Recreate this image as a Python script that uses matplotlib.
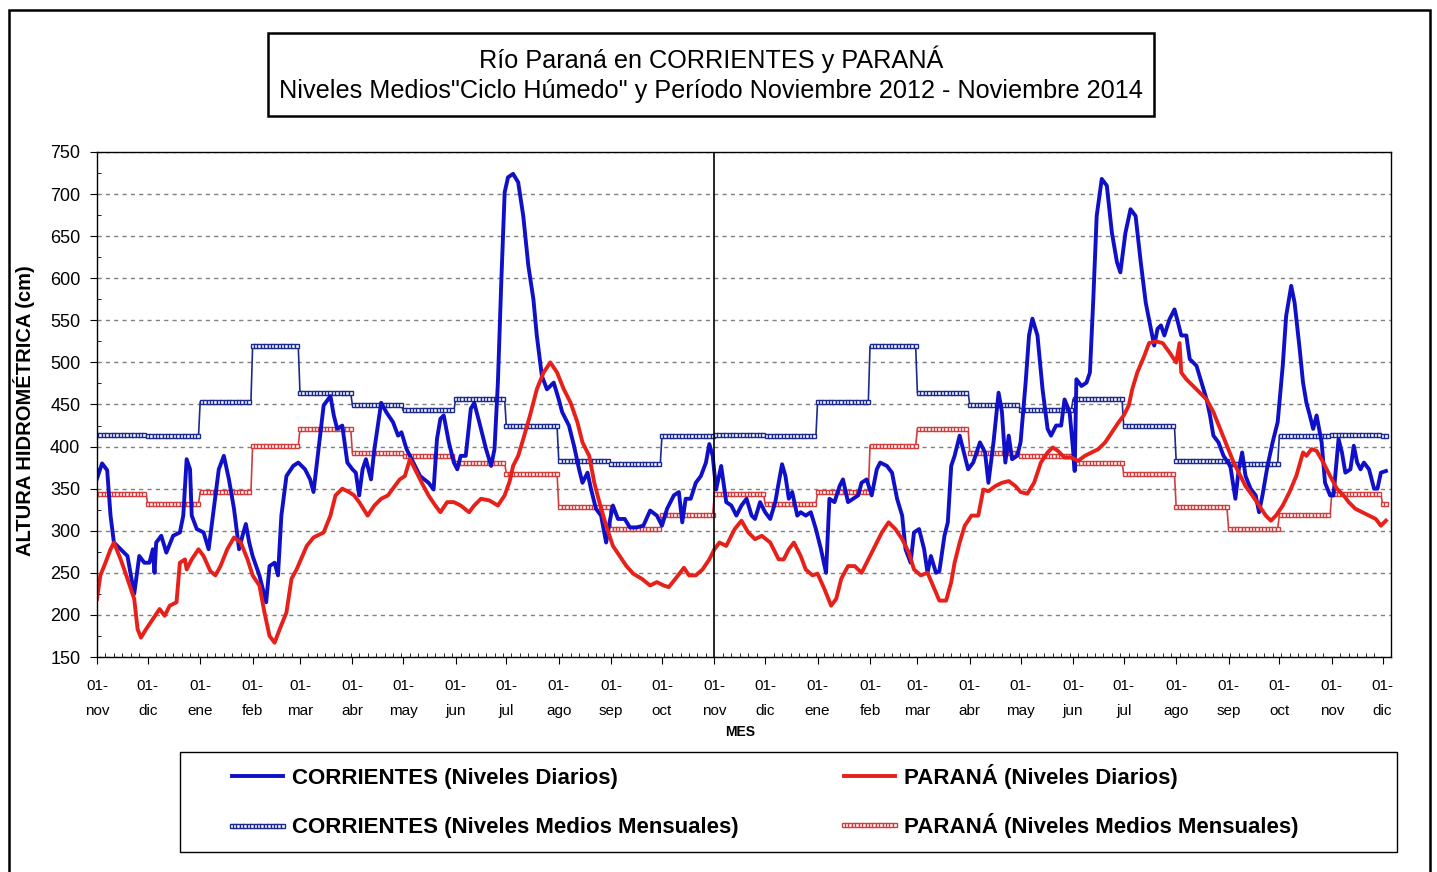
import numpy as np
import matplotlib.pyplot as plt
from matplotlib.patches import Rectangle
from matplotlib.ticker import MultipleLocator

plt.rcParams['font.family'] = ['Liberation Sans', 'DejaVu Sans']

# dias contados desde el 01-nov-2012
inicio = np.datetime64('2012-11-01')
meses = ['ene', 'feb', 'mar', 'abr', 'may', 'jun', 'jul', 'ago', 'sep', 'oct', 'nov', 'dic']

# niveles medios mensuales "ciclo humedo" (se repiten cada año)
mes_ciclo = ['nov', 'dic', 'ene', 'feb', 'mar', 'abr', 'may', 'jun', 'jul', 'ago', 'sep', 'oct']
corr_medio = [414, 412, 453, 519, 464, 449, 443, 456, 424, 383, 379, 413]
par_medio = [344, 332, 346, 401, 421, 392, 389, 381, 367, 328, 302, 319]

# CORRIENTES, niveles diarios (cm)
corr_dia = [0, 3, 6, 8, 10, 14, 18, 22, 25, 28, 31, 33, 34, 35, 38, 41, 45, 49, 51, 53, 55, 56, 59, 63, 66,
            69, 72, 75, 78, 81, 84, 86, 88, 90, 92, 96, 100, 102, 105, 107, 109, 112, 116, 119, 123, 126,
            128, 131, 134, 138, 140, 142, 145, 148, 151, 153, 155, 157, 159, 162, 164, 168, 171, 175, 178, 180,
            183, 187, 191, 196, 199, 201, 203, 205, 208, 211, 213, 215, 218, 221, 223, 226, 230, 233, 235, 237,
            239, 241, 243,
            246, 249, 252, 255, 258, 260, 263, 266, 270, 273, 275, 279, 282, 285, 287, 290, 292, 295, 298, 301,
            303, 305, 308, 312, 315, 319, 323, 327, 331, 334, 337, 341, 344, 346, 348, 351, 354, 357, 360, 362,
            364, 366, 369,
            372, 375, 378, 381, 384, 387, 389, 392, 395, 398, 401, 403, 405, 407, 409, 411, 414, 416, 419, 422,
            425, 428, 431, 433, 436, 439, 441, 444, 447, 450, 452, 455, 458, 461, 463, 467, 470, 473, 476, 478,
            481, 483, 486, 489, 491,
            493, 496, 498, 501, 503, 505, 507, 510, 512, 515, 518, 522, 525, 527, 530, 533, 535, 537, 539, 541,
            544, 546, 549, 551, 553, 556, 559, 562, 564, 567, 570, 572, 575, 577, 578, 579, 582, 585, 587, 589,
            591, 594, 597, 600, 603, 605, 608, 611, 614,
            617, 620, 623, 625, 627, 629, 631, 634, 637, 639, 641, 644, 646, 650, 653, 656, 658, 660, 663, 666,
            670, 673, 675, 677, 679, 682, 685, 687, 689, 692, 695, 698, 701, 703, 706, 708, 711, 713, 715, 717,
            719, 721, 724, 726, 729, 731, 734, 736, 738, 741, 743, 745, 747, 749, 752, 755, 757, 759, 762]
corr_nivel = [362, 380, 372, 318, 286, 278, 270, 225, 270, 262, 262, 278, 250, 286, 294, 274, 294, 298, 318, 385, 373, 318, 302, 298, 278,
              326, 373, 389, 361, 326, 278, 294, 308, 286, 270, 247, 215, 258, 262, 247, 318, 365, 377, 381, 373, 361,
              346, 397, 449, 460, 437, 421, 425, 381, 373, 369, 342, 373, 385, 361, 397, 452, 441, 429, 413, 417,
              397, 381, 365, 357, 349, 409, 433, 437, 405, 381, 373, 389, 389, 445, 452, 429, 397, 377, 397, 476,
              595, 702, 720,
              724, 714, 674, 615, 575, 532, 484, 468, 476, 456, 441, 425, 401, 373, 357, 369, 350, 326, 318, 286,
              310, 330, 314, 314, 304, 304, 306, 324, 318, 306, 326, 342, 346, 310, 338, 338, 357, 365, 381, 403,
              389, 349, 377,
              334, 330, 318, 330, 338, 318, 314, 334, 322, 314, 334, 357, 379, 365, 338, 346, 318, 322, 318, 322,
              302, 278, 250, 338, 334, 353, 361, 334, 338, 342, 357, 361, 342, 373, 381, 377, 369, 338, 318, 278,
              262, 298, 302, 278, 250,
              270, 250, 252, 294, 310, 377, 389, 413, 397, 373, 381, 405, 393, 357, 405, 464, 441, 381, 413, 385,
              389, 405, 476, 532, 552, 532, 468, 421, 413, 425, 425, 456, 441, 397, 371, 480, 472, 476, 488, 575,
              674, 718, 710, 654, 619, 607, 654, 682, 674,
              620, 571, 540, 520, 540, 544, 532, 551, 563, 548, 532, 532, 504, 496, 476, 456, 437, 413, 405, 389,
              377, 338, 373, 393, 365, 350, 342, 322, 342, 377, 405, 429, 496, 555, 591, 571, 516, 476, 452, 437,
              421, 437, 405, 357, 342, 342, 409, 393, 369, 373, 401, 381, 373, 381, 373, 350, 350, 369, 371]

# PARANA, niveles diarios (cm)
par_dia = [0, 2, 5, 8, 10, 14, 18, 22, 24, 26, 29, 33, 37, 40, 43, 47, 49, 52, 53, 56, 60, 63, 67, 70, 73,
           77, 81, 85, 89, 92, 96, 99, 102, 105, 108, 112, 115, 118,
           121, 124, 128, 134, 138, 141, 145, 149, 152, 155, 160, 164, 168, 172, 176, 179, 182, 185, 188, 192,
           196, 200, 203, 207, 211, 215, 220, 223, 227, 232, 237, 241,
           244, 246, 249, 252, 256, 260, 264, 268, 272, 276, 280, 284, 287, 291, 294, 297, 301, 305, 309, 313,
           317, 322, 327, 331, 335, 338, 342, 347, 350, 354, 358, 362, 365, 368,
           372, 377, 381, 385, 389, 393, 398, 403, 406, 409, 412, 416, 419, 423, 426, 430, 434, 437, 440, 444,
           448, 452, 456, 460, 464, 468, 472, 476, 480, 483, 487, 491, 495,
           498, 502, 505, 507, 510, 513, 517, 521, 524, 527, 531, 535, 539, 543, 546, 550, 554, 558, 562, 565,
           568, 572, 576, 580, 584, 588, 592, 596, 600, 604, 607, 610, 612, 615,
           619, 622, 626, 630, 634, 638, 640, 641, 644, 648, 652, 656, 660, 664, 668, 672, 676, 679, 683, 687,
           691, 694, 697, 701, 705, 709, 713, 715, 718, 721, 725, 729, 733, 737, 740, 744, 748, 752, 756, 759, 762]
par_nivel = [219, 247, 262, 278, 286, 266, 243, 219, 183, 173, 183, 195, 207, 199, 211, 215, 262, 266, 254, 266, 278, 270, 252, 247, 258,
             278, 292, 286, 266, 247, 235, 203, 175, 167, 183, 203, 243, 254,
             268, 282, 292, 298, 318, 342, 350, 346, 342, 334, 318, 330, 338, 342, 353, 361, 365, 385, 373, 357,
             342, 330, 322, 334, 334, 330, 322, 330, 338, 336, 330, 342,
             359, 377, 389, 409, 437, 468, 488, 500, 488, 468, 452, 429, 405, 389, 357, 334, 306, 282, 270, 258,
             249, 243, 235, 239, 235, 233, 243, 256, 247, 247, 254, 266, 278, 286,
             282, 302, 312, 298, 290, 294, 286, 266, 266, 278, 286, 270, 254, 247, 249, 231, 211, 219, 243, 258,
             258, 250, 266, 282, 298, 310, 302, 290, 274, 254, 247, 250, 231,
             217, 217, 239, 262, 286, 306, 318, 318, 349, 347, 353, 357, 359, 353, 346, 344, 357, 381, 393, 399,
             395, 387, 387, 383, 389, 393, 397, 405, 417, 429, 437, 449, 468, 488,
             507, 523, 525, 523, 512, 500, 523, 488, 480, 472, 464, 456, 441, 421, 401, 381, 365, 353, 342, 330,
             318, 312, 318, 330, 346, 365, 393, 389, 397, 395, 381, 365, 350, 342, 334, 326, 322, 318, 314, 306, 312]

# eje de fechas
meses_eje = np.arange('2012-11', '2015-01', dtype='datetime64[M]')
dias_mes = (meses_eje.astype('datetime64[D]') - inicio).astype(int)
etiquetas = ['01-\n' + meses[m] for m in meses_eje.astype(int) % 12]

# serie diaria de medios mensuales
dias = np.arange(0, 764)
mes_de_dia = [meses[m] for m in (inicio + dias).astype('datetime64[M]').astype(int) % 12]
corr_med_serie = [dict(zip(mes_ciclo, corr_medio))[m] for m in mes_de_dia]
par_med_serie = [dict(zip(mes_ciclo, par_medio))[m] for m in mes_de_dia]

W, H = 1437, 872
fig = plt.figure(figsize=(W / 100, H / 100), dpi=100)
ax = fig.add_axes([97 / W, 1 - 657 / H, (1391 - 97) / W, (657 - 152) / H])

azul, rojo = '#1010C8', '#E8201A'
azul_m, rojo_m = '#1C2A8E', '#D23C3C'

l3, = ax.plot(dias, corr_med_serie, color=azul_m, lw=1.2, marker='s', ms=3.3, mfc='white',
              mec=azul_m, mew=1.0, markevery=2)
l4, = ax.plot(dias, par_med_serie, color=rojo_m, lw=1.2, marker='s', ms=3.3, mfc='white',
              mec=rojo_m, mew=1.0, markevery=2)
l1, = ax.plot(corr_dia, corr_nivel, color=azul, lw=2.8)
l2, = ax.plot(par_dia, par_nivel, color=rojo, lw=2.8)

ax.axvline(365, color='black', lw=1.2)

ax.set_xlim(0, 765)
ax.set_ylim(150, 750)
ax.set_yticks(range(150, 751, 50))
ax.yaxis.set_minor_locator(MultipleLocator(25))
ax.set_xticks(dias_mes)
ax.set_xticklabels(etiquetas, fontsize=11, linespacing=1.95)
ax.xaxis.set_minor_locator(MultipleLocator(5))
ax.tick_params(axis='y', which='major', labelsize=13, direction='out', length=5, pad=7)
ax.tick_params(axis='x', which='major', direction='out', length=5, pad=11)
ax.tick_params(which='minor', direction='in', length=3)
ax.yaxis.grid(True, linestyle=(0, (3, 3)), color='#808080', lw=1)
ax.set_axisbelow(True)
for s in ax.spines.values():
    s.set_linewidth(1)

fig.text(24 / W, 1 - 411 / H, 'ALTURA HIDROMÉTRICA (cm)', rotation=90, fontsize=14.5,
         fontweight='bold', ha='center', va='center')
fig.text(740 / W, 1 - 732 / H, 'MES', fontsize=10, fontweight='bold', ha='center', va='center')

# recuadro general y del titulo
fig.add_artist(Rectangle((9 / W, -0.01), (1430 - 9) / W, 1 - 10 / H + 0.01, transform=fig.transFigure,
                         fill=False, edgecolor='black', lw=1.8))
fig.add_artist(Rectangle((268 / W, 1 - 116 / H), (1154 - 268) / W, 83 / H, transform=fig.transFigure,
                         facecolor='white', edgecolor='black', lw=1.8))
fig.text(711 / W, 1 - 59 / H, 'Río Paraná en CORRIENTES y PARANÁ', fontsize=18.2, ha='center', va='center')
fig.text(711 / W, 1 - 91 / H, 'Niveles Medios"Ciclo Húmedo" y Período Noviembre 2012 - Noviembre 2014',
         fontsize=18.2, ha='center', va='center')

# leyenda: recuadro y una columna por estacion
fig.add_artist(Rectangle((180 / W, 1 - 852 / H), (1397 - 180) / W, 100 / H, transform=fig.transFigure,
                         fill=False, edgecolor='black', lw=1))
opciones = dict(loc='center left', frameon=False, prop={'size': 16, 'weight': 'bold'},
                handlelength=2.9, handletextpad=0.1, borderpad=0, borderaxespad=0, numpoints=16)
leg1 = fig.legend([l1, l3], ['CORRIENTES (Niveles Diarios)', 'CORRIENTES (Niveles Medios Mensuales)'],
                  bbox_to_anchor=(225 / W, 1 - 803 / H), labelspacing=1.3, **opciones)
leg2 = fig.legend([l2, l4], ['PARANÁ (Niveles Diarios)', 'PARANÁ (Niveles Medios Mensuales)'],
                  bbox_to_anchor=(837 / W, 1 - 801 / H), labelspacing=1.08, **opciones)

fig.savefig('out.png', dpi=100)
